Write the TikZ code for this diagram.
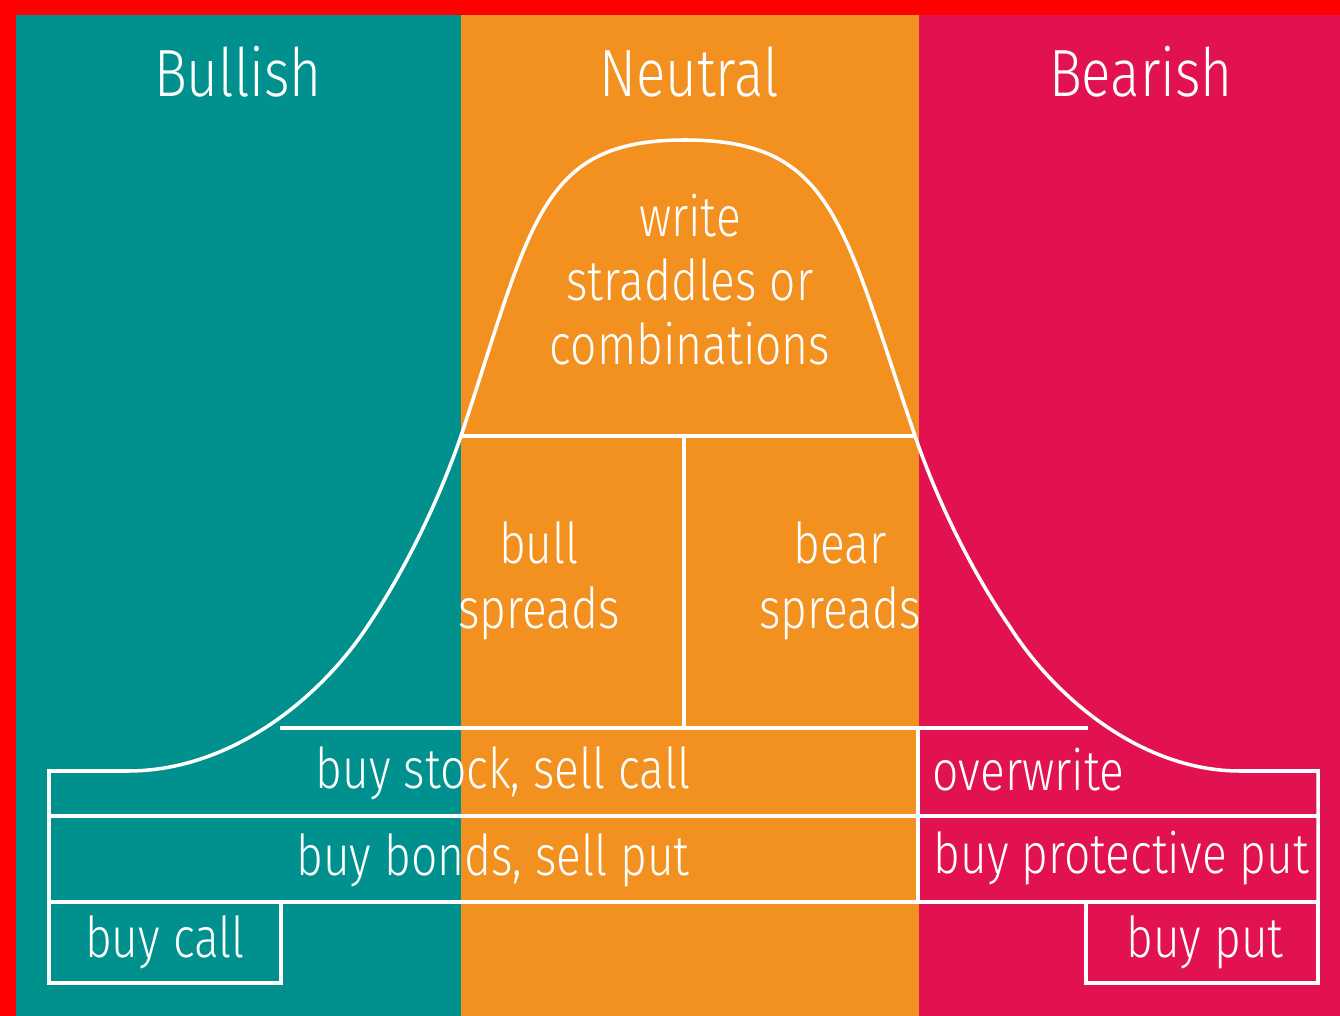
\documentclass[tikz,border=0pt]{standalone}
\usepackage{fontspec}
\setmainfont{Fira Sans Light}[FakeStretch=0.82]
\usepackage{xcolor}
\definecolor{bullteal}{RGB}{0,145,142}
\definecolor{neutralorange}{RGB}{243,145,32}
\definecolor{bearred}{RGB}{225,18,79}

\begin{document}
\begin{tikzpicture}[x=0.01cm, y=-0.01cm,
  lbl/.style={text=white, inner sep=0pt, font=\fontsize{16}{18.2}\selectfont},
  head/.style={text=white, inner sep=0pt, font=\fontsize{19}{22}\selectfont},
  edge/.style={white, line width=1pt}]
  \useasboundingbox (0,0) rectangle (1340,1016);
  % bands
  \fill[red] (0,0) rectangle (1340,1016);
  \fill[bullteal] (16,15) rectangle (461,1016);
  \fill[neutralorange] (461,15) rectangle (918.5,1016);
  \fill[bearred] (918.5,15) rectangle (1340,1016);
  % bell and outer frame
  \draw[edge] (49,902) -- (49,771) -- (128,771)
    .. controls (228,771) and (317,702) .. (367,627)
    .. controls (406,569) and (441,496) .. (463,430)
    .. controls (532,221) and (540,140) .. (685,140)
    .. controls (832,140) and (842,221) .. (913,430)
    .. controls (935,496) and (970,569) .. (1010,627)
    .. controls (1058,702) and (1145,771) .. (1240,771)
    -- (1318,771) -- (1318,902);
  \draw[edge] (49,816) -- (1318,816);
  \draw[edge] (49,902) -- (1318,902);
  \draw[edge] (49,902) rectangle (281,983);
  \draw[edge] (1086,902) rectangle (1318,983);
  \draw[edge] (280,728) -- (1088,728);
  \draw[edge] (918,728) -- (918,902);
  \draw[edge] (461,436) -- (916,436);
  \draw[edge] (684,436) -- (684,728);
  % headings
  \node[head, anchor=base] (bullish) at (238,97) {Bullish};
  \node[head, anchor=base] (neutral) at (689,97) {Neutral};
  \node[head, anchor=base] (bearish) at (1141,97) {Bearish};
  % strategies
  \node[lbl, anchor=base, align=center] (straddle) at (690,365) {write\\straddles or\\combinations};
  \node[lbl, anchor=base, align=center] (bullspread) at (539,628) {bull\\spreads};
  \node[lbl, anchor=base, align=center] (bearspread) at (840,628) {bear\\spreads};
  \node[lbl, anchor=base] (stockcall) at (503,788) {buy stock, sell call};
  \node[lbl, anchor=base] (bondput) at (493,875) {buy bonds, sell put};
  \node[lbl, anchor=base] (buycall) at (165,957) {buy call};
  \node[lbl, anchor=base west] (overwrite) at (932,790) {overwrite};
  \node[lbl, anchor=base west] (protput) at (933,873) {buy protective put};
  \node[lbl, anchor=base] (buyput) at (1205,957) {buy put};
\end{tikzpicture}
\end{document}
